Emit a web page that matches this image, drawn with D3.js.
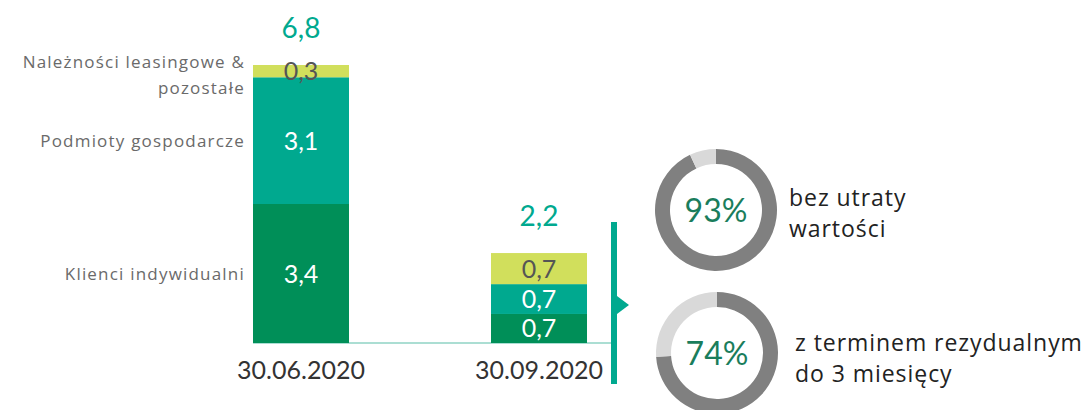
<!DOCTYPE html>
<html><head><meta charset="utf-8">
<script src="https://cdn.jsdelivr.net/npm/d3@7"></script>
<style>body{margin:0;background:#fff}svg{display:block;font-family:Lato,"Open Sans",sans-serif}</style>
</head><body>
<svg id="c" width="1084" height="410"></svg>
<script>
const periods = ["30.06.2020", "30.09.2020"];
const seriesNames = ["Klienci indywidualni", "Podmioty gospodarcze", "Należności leasingowe & pozostałe"];
const indywidualni = [3.4, 0.71];
const gospodarcze = [3.1, 0.73];
const leasing = [0.3, 0.76];
const segLabels = [["3,4", "3,1", "0,3"], ["0,7", "0,7", "0,7"]];
const totals = ["6,8", "2,2"];
const totalValues = [6.8, 2.2];
const donutValues = [93, 74];
const donutLabels = [["bez utraty", "wartości"], ["z terminem rezydualnym", "do 3 miesięcy"]];

const colors = ["#008f58", "#00a98f", "#d1df5c"];
const labelColors = ["#ffffff", "#ffffff", "#555555"];

const svg = d3.select("#c");
const x = d3.scaleBand().domain(periods).range([182, 658]).paddingInner(0.5966).paddingOuter(0.2983);
const y = d3.scaleLinear().domain([0, 6.8]).range([343, 65]);

const rows = periods.map((p, i) => ({ period: p, k0: indywidualni[i], k1: gospodarcze[i], k2: leasing[i] }));
const stack = d3.stack().keys(["k0", "k1", "k2"])(rows);

// baseline
svg.append("line").attr("x1", x(periods[0])).attr("x2", 612).attr("y1", y(0)).attr("y2", y(0))
  .attr("stroke", "#8fd3c4").attr("stroke-width", 1.5);

stack.forEach((layer, li) => {
  const g = svg.append("g");
  g.selectAll("rect").data(layer).join("rect")
    .attr("x", d => x(d.data.period)).attr("width", x.bandwidth())
    .attr("y", d => y(d[1])).attr("height", d => y(d[0]) - y(d[1]))
    .attr("fill", colors[li]);
  g.selectAll("text").data(layer).join("text")
    .attr("x", d => x(d.data.period) + x.bandwidth() / 2)
    .attr("y", d => (y(d[0]) + y(d[1])) / 2)
    .attr("dy", "0.36em").attr("text-anchor", "middle")
    .attr("font-size", 25).attr("fill", labelColors[li])
    .text((d, i) => segLabels[i][li]);
});

// totals
svg.selectAll(".tot").data(periods).join("text").attr("class", "tot")
  .attr("x", d => x(d) + x.bandwidth() / 2)
  .attr("y", (d, i) => y(totalValues[i]) - 37)
  .attr("text-anchor", "middle").attr("dy", "0.36em")
  .attr("font-size", 28).attr("fill", "#00a98f")
  .text((d, i) => totals[i]);

// x labels
const xAxis = svg.append("g").attr("transform", `translate(0,${y(0)})`)
  .call(d3.axisBottom(x).tickSize(0).tickPadding(18));
xAxis.select(".domain").remove();
xAxis.selectAll("text").attr("font-size", 25).attr("fill", "#333").style("font-family", "Lato");

// category labels (left of first bar)
const catX = x(periods[0]) - 8;
const catLines = [["Klienci indywidualni"], ["Podmioty gospodarcze"], ["Należności leasingowe &", "pozostałe"]];
const catY = [ (y(0) + y(indywidualni[0])) / 2, (y(indywidualni[0]) + y(indywidualni[0] + gospodarcze[0])) / 2, 75 ];
catLines.forEach((lines, i) => {
  const t = svg.append("text").attr("text-anchor", "end").attr("font-size", 17).attr("fill", "#6a6a6a")
    .style("font-family", "'Open Sans'").attr("letter-spacing", 1.2);
  lines.forEach((l, j) => {
    t.append("tspan").attr("x", catX)
      .attr("y", catY[i] + (j - (lines.length - 1) / 2) * 26).attr("dy", "0.36em").text(l);
  });
});

// vertical bracket + arrow
svg.append("rect").attr("x", 611).attr("y", 222).attr("width", 6).attr("height", 162).attr("fill", "#00a98f");
svg.append("path").attr("d", "M617,296 L629,305 L617,314 Z").attr("fill", "#00a98f");

// donuts
const centers = [[716, 210], [717, 353]];
const arc = d3.arc().innerRadius(46).outerRadius(61);
const pie = d3.pie().sort(null).value(d => d);
donutValues.forEach((v, i) => {
  const g = svg.append("g").attr("transform", `translate(${centers[i][0]},${centers[i][1]})`);
  g.selectAll("path").data(pie([v, 100 - v])).join("path")
    .attr("d", arc).attr("fill", (d, j) => j === 0 ? "#808080" : "#d9d9d9");
  g.append("text").attr("text-anchor", "middle").attr("dy", "0.36em")
    .attr("font-size", 32).attr("fill", "#1a7d5c").text(v + "%");
  const t = svg.append("text").attr("font-size", 23).attr("fill", "#222")
    .style("font-family", "'Open Sans'").attr("letter-spacing", 0.95);
  donutLabels[i].forEach((l, j) => {
    t.append("tspan").attr("x", i === 0 ? 789 : 795)
      .attr("y", (i === 0 ? 198 : 343) + j * 31).attr("dy", "0.36em").text(l);
  });
});
</script>
</body></html>
